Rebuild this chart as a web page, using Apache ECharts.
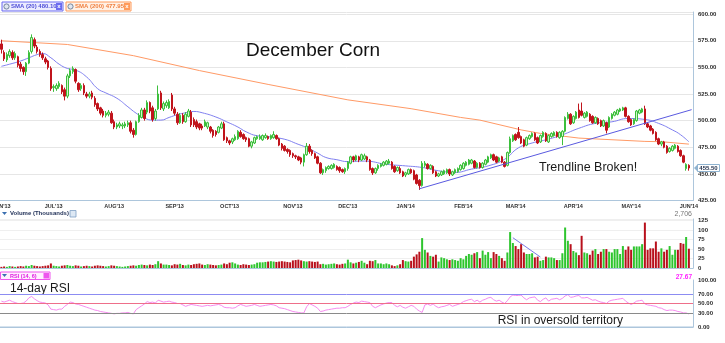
<!DOCTYPE html>
<html><head><meta charset="utf-8">
<script src="https://cdn.jsdelivr.net/npm/echarts@6/dist/echarts.min.js"></script>
<style>html,body{margin:0;padding:0;background:#fff}#c{width:725px;height:343px}</style>
</head><body><div id="c"></div>
<script>
// ---------- data ----------
const monthNames = ['JAN','FEB','MAR','APR','MAY','JUN','JUL','AUG','SEP','OCT','NOV','DEC'];
const holidays = ['2013-07-04','2013-09-02','2013-11-28','2013-12-25','2014-01-01','2014-01-20','2014-02-17','2014-04-18','2014-05-26'];
const firstDay = '2013-06-04';
const lastDay = '2014-06-03';

// [open, close, low, high]
const priceOCLH = [
[572,567,563,576],[564,558,556,566],[557,562,555,564],[561,565,559,567],[564,559,557,566],[559,563,557,565],[560,552,550,561],[553,549,546,555],[550,546,543,551],[546,554,542,555],
[554,564,553,566],[565,578,563,581],[576,570,568,578],[569,565,563,571],[565,562,560,567],[562,559,557,564],[558,555,553,560],[556,550,548,557],[549,530,528,551],[531,532,527,534],
[530,533,528,535],[532,535,530,537],[533,527,525,534],[529,523,519,531],[523,542,521,544],[542,547,540,549],[546,549,544,551],[548,537,535,549],[535,529,527,536],[530,533,528,535],
[533,526,524,535],[525,523,521,527],[523,525,521,527],[526,522,520,528],[521,515,513,523],[516,511,509,517],[512,507,505,513],[509,505,503,511],[505,507,503,509],[506,508,504,510],
[507,498,497,509],[499,494,492,501],[494,496,492,498],[495,497,493,499],[495,496,492,498],[495,497,493,499],[496,498,494,500],[498,490,488,500],[491,487,484,493],[487,499,486,500],
[499,505,498,507],[503,510,502,512],[510,502,500,512],[508,517,506,519],[517,509,507,518],[512,501,499,514],[502,509,500,511],[511,525,510,533],[526,512,510,528],[511,516,509,518],
[514,517,512,519],[512,518,511,520],[524,511,509,526],[511,507,505,513],[506,498,496,508],[498,505,497,507],[505,499,497,507],[499,506,498,508],[504,509,503,511],[508,496,494,510],
[501,496,494,503],[499,494,492,501],[497,493,491,498],[495,493,491,497],[495,499,494,501],[494,498,492,499],[494,490,488,495],[491,486,484,492],[490,487,485,491],[489,494,488,495],
[493,497,492,499],[497,482,481,499],[484,481,479,485],[481,479,477,482],[480,483,478,484],[482,485,481,487],[483,490,482,491],[489,485,484,491],[487,483,482,488],[484,482,480,485],
[483,476,475,484],[476,480,474,481],[479,484,478,485],[483,485,482,486],[483,485,482,487],[482,486,481,487],[484,486,483,488],[485,483,482,486],[483,486,482,487],[484,487,483,490],
[486,483,482,487],[483,477,476,484],[478,474,472,479],[476,472,471,477],[473,471,469,474],[472,468,466,473],[469,467,465,470],[467,466,464,468],[466,463,462,467],[465,461,459,466],
[461,468,457,469],[468,476,467,479],[476,471,469,478],[472,469,467,473],[469,465,464,470],[466,460,459,467],[460,451,450,461],[451,454,449,455],[453,456,451,457],[455,457,454,458],
[455,458,454,459],[456,459,455,460],[457,454,453,458],[456,453,451,457],[454,452,451,455],[452,455,450,456],[455,461,453,462],[460,466,459,467],[466,463,461,467],[463,467,462,468],
[466,463,461,467],[463,468,462,469],[464,467,463,469],[466,463,461,467],[463,454,453,464],[455,451,449,456],[451,455,450,456],[455,458,453,459],[457,459,456,460],[458,461,457,462],
[459,462,458,463],[460,462,459,464],[461,455,454,462],[457,452,451,458],[453,456,452,457],[455,451,450,457],[452,448,447,453],[449,451,447,452],[450,454,449,455],[454,451,450,455],
[453,445,444,454],[449,441,440,450],[444,439,435,445],[439,460,438,462],[458,460,456,462],[459,455,454,460],[455,458,454,459],[457,451,450,458],[452,448,447,453],[448,450,447,451],
[449,452,448,453],[450,453,449,454],[451,454,450,455],[454,450,448,455],[449,452,448,453],[451,454,450,455],[452,455,451,456],[454,458,453,459],[455,460,454,461],[458,461,457,462],
[459,463,458,464],[460,463,459,464],[462,456,455,463],[456,460,455,461],[460,456,455,461],[456,460,455,461],[459,463,458,464],[461,466,460,467],[465,468,464,469],[468,463,462,469],
[466,461,460,467],[462,465,461,466],[466,461,460,467],[461,457,456,462],[458,470,457,471],[470,483,469,485],[481,486,480,487],[487,482,481,488],[489,484,483,494],[485,479,478,486],
[482,476,475,483],[477,484,476,485],[483,486,482,487],[485,488,484,489],[488,482,481,489],[484,479,478,485],[480,486,479,487],[485,489,484,490],[488,481,480,489],[480,486,479,487],
[485,488,484,489],[486,489,485,490],[489,485,484,490],[484,489,483,490],[485,490,477,491],[490,503,489,504],[502,506,501,508],[506,497,496,507],[498,504,497,505],[502,508,501,509],
[510,503,502,516],[509,505,504,517],[503,507,502,508],[504,508,503,509],[506,500,499,507],[504,498,497,505],[498,503,497,504],[502,497,496,503],[500,495,494,501],[495,500,494,501],
[498,491,488,499],[494,503,493,504],[502,506,501,507],[505,508,504,509],[506,510,505,511],[509,511,508,512],[510,512,509,513],[512,504,503,513],[504,499,498,505],[501,496,495,502],
[497,501,496,502],[500,509,499,510],[507,510,506,511],[508,511,507,512],[511,497,496,514],[497,494,493,498],[495,491,490,496],[492,488,487,493],[489,482,481,490],[483,478,477,484],
[478,480,476,481],[480,475,474,481],[476,470,469,477],[471,474,470,475],[472,476,471,477],[474,477,473,478],[476,471,470,477],[472,467,466,473],[467,461,460,468],[455,459,453,460],
[458,455.5,453,459]
];

// volume, thousands
const volumes = [
3,4,3,5,4,3,4,5,4,6,5,8,6,5,4,5,6,7,12,
6,5,4,6,7,8,6,5,7,6,4,5,6,5,4,6,7,6,5,4,5,7,
6,5,4,3,4,5,6,7,6,8,9,8,7,9,8,10,18,12,9,9,8,7,
10,9,11,8,7,9,8,10,11,12,9,8,10,9,8,7,8,9,12,10,
14,15,12,9,8,10,9,8,9,10,14,15,15,16,17,18,17,16,17,18,17,16,15,
20,21,22,20,18,17,18,17,16,17,10,11,9,10,11,12,10,9,11,12,
22,15,12,14,16,19,14,10,19,18,21,12,12,10,12,10,7,5,7,10,21,
18,17,19,30,36,43,79,48,41,32,30,35,17,28,26,23,21,23,21,19,26,
23,32,37,35,39,42,26,46,35,42,26,42,37,32,26,19,41,95,66,
58,50,63,41,37,37,39,28,30,19,21,30,28,28,26,21,21,39,107,72,63,
45,41,34,85,41,39,35,46,50,37,43,50,50,43,41,50,50,37,58,48,57,
48,57,57,57,63,120,48,52,52,70,43,52,43,48,58,35,48,48,66,64,82,51
];

const rsiValues = [
55,53,55,57,54,52,50,50,51,55,62,65,60,56,53,52,51,47,38,
37,36,38,38,44,48,53,52,49,48,46,44,42,40,38,36,35,33,32,31,30,29,
28,29,29,30,30,31,29,28,37,41,45,49,54,52,53,51,57,55,53,54,55,53,
52,50,50,47,44,46,48,47,46,45,44,45,46,45,46,47,48,46,42,41,
41,40,41,45,48,46,44,45,46,48,46,44,45,46,47,48,47,45,41,40,39,37,35,
33,32,31,30,30,43,50,47,44,40,33,34,36,37,38,39,40,40,41,41,
44,48,51,53,52,55,54,53,52,44,41,44,47,49,51,52,52,46,43,46,42,
40,43,46,44,38,34,31,47,49,46,49,44,41,43,44,46,48,44,46,48,50,
54,56,58,59,54,57,53,57,59,62,63,58,55,57,53,50,56,64,68,
67,67,68,62,58,62,63,64,57,54,59,62,55,59,60,61,58,61,66,69,63,
64,66,67,62,62,63,60,57,58,55,53,52,50,55,57,58,59,60,61,55,51,
48,51,55,56,57,49,47,46,45,44,41,40,37,35,36,36,35,33,32,30,30,27.67
];

// [day index, value]
const sma20Points = [[0,551],[3,553],[7,556],[10,559],[13,562],[15,563],[18,559],[21,553],[24,549],[27,547.5],[31,541],[35,530],[38,526],[42,521],[46,513],[49,507],[52,502.5],[55,500.5],[58,500.5],[61,503],[64,505.6],[67,507.4],[70,508.6],[73,507.4],[78,503.4],[82,498.8],[86,494],[89,489.5],[93,485.8],[97,484.9],[100,484],[104,481.8],[107,478.7],[111,474.7],[115,469.5],[118,465.4],[122,463.3],[126,461.5],[132,462],[140,459],[147,457.5],[153,456],[159,452.9],[165,451.4],[171,454.5],[177,457.5],[183,463.7],[188,474.4],[193,479],[198,482],[204,486.7],[210,492.8],[216,497.4],[222,498.9],[228,502],[234,501.1],[239,497.4],[244,491.3],[247,486.7],[250,480.1]];
const sma200Points = [[0,575],[24,571.5],[48,561],[72,547],[97,534],[126,519.5],[149,511.2],[167,503],[174,500.5],[189,491.3],[196,488],[210,483.6],[234,480.5],[240,480.2],[250,477.95]];
const trendlinePrice = [[152,436],[251,510.3]];
const trendlineVolume = [[186,80],[196,29]];

const lastPrice = 455.50;
const sma20Last = '480.10';
const sma200Last = '477.95';
const lastVolumeText = '2,706';
const lastRsiText = '27.67';

// ---------- build ----------
function tradingDays(){
  const out=[]; let t=Date.parse(firstDay+'T00:00:00Z'); const end=Date.parse(lastDay+'T00:00:00Z');
  while(t<=end){ const d=new Date(t); const wd=d.getUTCDay(); const s=d.toISOString().slice(0,10);
    if(wd!==0&&wd!==6&&holidays.indexOf(s)<0) out.push(s); t+=86400000; }
  return out;
}
const dates = tradingDays();
const isMonthStart = (i)=> i===0 || dates[i].slice(5,7)!==dates[i-1].slice(5,7);

const GREEN='#3cbf3c', GREENFILL='#d2f2cc', RED='#c0141c';
const AXISBLUE='#adc6dc';
const tickFont = {fontFamily:'Liberation Sans', fontWeight:'bold', fontSize:6, color:'#2a2a2a'};

const chart = echarts.init(document.getElementById('c'), null, {renderer:'canvas'});
const gridBase = {containLabel:false, outerBoundsMode:'none'};
const option = {
  animation:false,
  backgroundColor:'#ffffff',
  grid:[
    Object.assign({left:0, top:12, width:693, height:188.5}, gridBase),
    Object.assign({left:0, top:219, width:693, height:49}, gridBase),
    Object.assign({left:0, top:280, width:693, height:47}, gridBase)
  ],
  xAxis:[
    {type:'category', gridIndex:0, data:dates, boundaryGap:true,
     axisLine:{show:true, lineStyle:{color:AXISBLUE}}, axisTick:{show:false}, splitLine:{show:false},
     axisLabel:{interval:(i)=>isMonthStart(i), margin:3, fontSize:5.5, hideOverlap:false,
       fontFamily:'Liberation Sans', fontWeight:'bold', color:'#333',
       formatter:(v)=> monthNames[+v.slice(5,7)-1]+"'"+v.slice(2,4)}},
    {type:'category', gridIndex:1, data:dates, boundaryGap:true, position:'top',
     axisLine:{show:true, lineStyle:{color:AXISBLUE}}, axisTick:{show:false}, axisLabel:{show:false}},
    {type:'category', gridIndex:2, data:dates, boundaryGap:true, position:'top',
     axisLine:{show:true, lineStyle:{color:AXISBLUE}}, axisTick:{show:false}, axisLabel:{show:false}}
  ],
  yAxis:[
    {type:'value', gridIndex:0, position:'right', min:425, max:602, interval:25, scale:true,
     axisLine:{show:true, lineStyle:{color:AXISBLUE}}, axisTick:{show:false},
     splitLine:{show:true, lineStyle:{color:'#e6e6e6'}},
     axisLabel:Object.assign({margin:5, formatter:(v)=> (v%25===0? v.toFixed(2):'')}, tickFont)},
    {type:'value', gridIndex:1, position:'right', min:0, max:129.5, interval:25,
     axisLine:{show:true, lineStyle:{color:AXISBLUE}}, axisTick:{show:false},
     splitLine:{show:true, lineStyle:{color:'#efefef'}},
     axisLabel:Object.assign({margin:5, formatter:(v)=> (v%25===0? String(v):'')}, tickFont)},
    {type:'value', gridIndex:2, position:'right', min:0, max:100, interval:10,
     axisLine:{show:true, lineStyle:{color:AXISBLUE}}, axisTick:{show:false},
     splitLine:{show:false},
     axisLabel:Object.assign({margin:5, formatter:(v)=> ([0,30,50,70,100].indexOf(v)>=0? v.toFixed(2):'')}, tickFont)}
  ],
  series:[
    {type:'line', xAxisIndex:0, yAxisIndex:0, data:sma200Points, showSymbol:false, smooth:false,
     lineStyle:{color:'#ff9a66', width:1}, z:2},
    {type:'line', xAxisIndex:0, yAxisIndex:0, data:sma20Points, showSymbol:false, smooth:true,
     lineStyle:{color:'#8080f0', width:1}, z:2},
    {type:'candlestick', xAxisIndex:0, yAxisIndex:0, data:priceOCLH, barWidth:2.2,
     itemStyle:{color:GREENFILL, color0:RED, borderColor:GREEN, borderColor0:RED, borderWidth:1}, z:3},
    {type:'line', xAxisIndex:0, yAxisIndex:0, data:trendlinePrice, showSymbol:false,
     lineStyle:{color:'#5a5ae0', width:1}, z:4},
    {type:'bar', xAxisIndex:1, yAxisIndex:1, barWidth:2,
     data:volumes.map((v,i)=>({value:v, itemStyle:{color: priceOCLH[i][1]>=priceOCLH[i][0]? '#2ec52e' : '#b8101c'}}))},
    {type:'line', xAxisIndex:1, yAxisIndex:1, data:trendlineVolume, showSymbol:false,
     lineStyle:{color:'#7a7ae6', width:1}, z:4},
    {type:'line', xAxisIndex:2, yAxisIndex:2, data:rsiValues, showSymbol:false, smooth:false,
     lineStyle:{color:'#f78cf0', width:1}, z:4,
     markLine:{silent:true, symbol:'none', label:{show:false},
       data:[{yAxis:70, lineStyle:{color:'#8c8cf2', type:'solid', width:1}},
             {yAxis:50, lineStyle:{color:'#ee6f8a', type:'solid', width:1}},
             {yAxis:30, lineStyle:{color:'#8a8a8a', type:'solid', width:1}}]}}
  ]
};
chart.setOption(option);

// ---------- annotations ----------
const pt = chart.convertToPixel({xAxisIndex:0, yAxisIndex:0}, [priceOCLH.length-1, lastPrice]);
const ly = Math.round(pt[1]);
const smallBold = {fontFamily:'Liberation Sans', fontWeight:'bold', fontSize:6};
function legendBox(x, w, stroke, fill, txtColor, label){
  return {type:'group', children:[
    {type:'rect', shape:{x:x, y:2, width:w, height:9}, style:{fill:fill, stroke:stroke, lineWidth:1}},
    {type:'circle', shape:{cx:x+4.5, cy:6.5, r:2.6}, style:{fill:'#dfe6f0', stroke:'#5b6c88', lineWidth:0.8}},
    {type:'text', style:Object.assign({x:x+9, y:6.8, text:label, fill:txtColor, textVerticalAlign:'middle'}, smallBold)},
    {type:'rect', shape:{x:x+w-7, y:3, width:6, height:7}, style:{fill:stroke}},
    {type:'text', style:{x:x+w-4, y:6.8, text:'x', fill:'#fff', fontSize:6, fontWeight:'bold', fontFamily:'Liberation Sans', textAlign:'center', textVerticalAlign:'middle'}}
  ]};
}
chart.setOption({graphic:[
  legendBox(2, 61, '#6b6bf0', '#ececff', '#5050d8', 'SMA (20) '+sma20Last),
  legendBox(66, 65, '#ff9a5a', '#fff1e6', '#f08040', 'SMA (200) '+sma200Last),
  {type:'text', style:{x:246, y:51, text:'December Corn', fill:'#111', fontSize:19, fontFamily:'Liberation Sans', textVerticalAlign:'middle'}},
  {type:'text', style:{x:539, y:168, text:'Trendline Broken!', fill:'#1a1a1a', fontSize:12.5, fontFamily:'Liberation Sans', textVerticalAlign:'middle'}},
  // last price marker
  {type:'polygon', shape:{points:[[694,ly],[697.5,ly-3.5],[697.5,ly+3.5]]}, style:{fill:'#8fb3d0'}},
  {type:'rect', shape:{x:697.5, y:ly-3.5, width:22, height:7}, style:{fill:'#fff', stroke:'#8fb3d0', lineWidth:1}},
  {type:'text', style:Object.assign({x:708.5, y:ly+0.3, text:lastPrice.toFixed(2), fill:'#1f2d4a', textAlign:'center', textVerticalAlign:'middle'}, smallBold)},
  // volume header
  {type:'polygon', shape:{points:[[2,212],[7,212],[4.5,215]]}, style:{fill:'#3a6fb0'}},
  {type:'text', style:Object.assign({x:10, y:213.8, text:'Volume (Thousands)', fill:'#1d2d55', textVerticalAlign:'middle'}, smallBold)},
  {type:'rect', shape:{x:70, y:210.5, width:6, height:6.5}, style:{fill:'#dde8f4', stroke:'#7f9fc4', lineWidth:0.8}},
  {type:'text', style:{x:692, y:214, text:lastVolumeText, fill:'#777', fontSize:7, fontFamily:'Liberation Sans', textAlign:'right', textVerticalAlign:'middle'}},
  // rsi header
  {type:'rect', shape:{x:0.5, y:272, width:49.5, height:7.5}, style:{fill:'#fff0ff', stroke:'#ee55ee', lineWidth:1}},
  {type:'polygon', shape:{points:[[2,274],[7,274],[4.5,277]]}, style:{fill:'#3a6fb0'}},
  {type:'text', style:Object.assign({x:10, y:276, text:'RSI (14, 6)', fill:'#e020e0', textVerticalAlign:'middle'}, {fontFamily:'Liberation Sans', fontWeight:'bold', fontSize:5.5})},
  {type:'rect', shape:{x:43.5, y:273, width:5.5, height:5.5}, style:{fill:'#ee55ee'}},
  {type:'text', style:Object.assign({x:692, y:277.5, text:lastRsiText, fill:'#ff22ff', textAlign:'right', textVerticalAlign:'middle'}, {fontFamily:'Liberation Sans', fontWeight:'bold', fontSize:6.5})},
  {type:'line', shape:{x1:0, y1:327, x2:693, y2:327}, style:{stroke:AXISBLUE, lineWidth:1}},
  {type:'text', style:{x:10, y:289, text:'14-day RSI', fill:'#1a1a1a', fontSize:12, fontFamily:'Liberation Sans', textVerticalAlign:'middle'}},
  {type:'text', style:{x:623, y:321, text:'RSI in oversold territory', fill:'#1a1a1a', fontSize:12, fontFamily:'Liberation Sans', textAlign:'right', textVerticalAlign:'middle'}}
]});
</script>
</body></html>
